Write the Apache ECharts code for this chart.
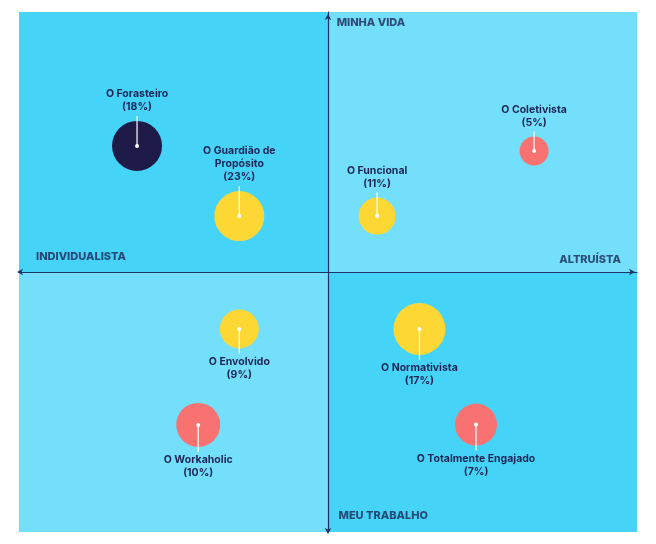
<!DOCTYPE html>
<html>
<head>
<meta charset="utf-8">
<script src="https://cdn.jsdelivr.net/npm/echarts@6/dist/echarts.min.js"></script>
<style>
html,body{margin:0;padding:0;background:#ffffff;}
#chart{width:656px;height:544px;}
</style>
</head>
<body>
<div id="chart"></div>
<script>
// ---- data ----
const names = ['O Forasteiro', 'O Guardião de\nPropósito', 'O Funcional', 'O Coletivista',
               'O Envolvido', 'O Workaholic', 'O Normativista', 'O Totalmente Engajado'];
const shares = [18, 23, 11, 5, 9, 10, 17, 7];
const xValues = [-6.18, -2.87, 1.59, 6.67, -2.87, -4.2, 2.96, 4.79];
const yValues = [4.85, 2.15, 2.15, 4.65, -2.19, -5.88, -2.19, -5.87];
const bubbleDiameter = [50, 50, 37, 29, 39, 44, 52, 42];
const segment = ['navy', 'yellow', 'yellow', 'red', 'yellow', 'red', 'yellow', 'red'];
const axisNames = ['MINHA VIDA', 'INDIVIDUALISTA', 'ALTRUÍSTA', 'MEU TRABALHO'];

// ---- styles ----
const palette = { navy: '#1f1b48', yellow: '#fdd835', red: '#f87272' };
const dark = '#45d4f8', light = '#73dffb';
const ink = '#1d2455';
const FONT = 'Inter, Roboto, "Liberation Sans", sans-serif';

const bubbleData = names.map((n, i) => [xValues[i], yValues[i], bubbleDiameter[i], shares[i], i]);

const axisCommon = {
  type: 'value', min: -10, max: 10, z: 10,
  axisLine: { show: true, onZero: true, lineStyle: { color: '#1b3566', width: 1.2 },
              symbol: ['arrow', 'arrow'], symbolSize: [5, 6], symbolOffset: [-2, -2] },
  axisTick: { show: false }, axisLabel: { show: false }, splitLine: { show: false }
};

const chart = echarts.init(document.getElementById('chart'));
chart.setOption({
  animation: false,
  backgroundColor: '#ffffff',
  grid: { left: 19, right: 19, top: 12, bottom: 12 },
  xAxis: axisCommon,
  yAxis: axisCommon,
  series: [
    {
      type: 'scatter', silent: true, symbolSize: 0, data: [],
      z: -1,
      markArea: {
        silent: true,
        data: [
          [{ coord: [-10, 0], itemStyle: { color: dark } }, { coord: [0, 10] }],
          [{ coord: [0, 0], itemStyle: { color: light } }, { coord: [10, 10] }],
          [{ coord: [-10, -10], itemStyle: { color: light } }, { coord: [0, 0] }],
          [{ coord: [0, -10], itemStyle: { color: dark } }, { coord: [10, 0] }]
        ]
      }
    },
    {
      type: 'scatter', silent: true, symbolSize: 1, itemStyle: { color: 'rgba(0,0,0,0)' }, z: 3,
      data: [
        { value: [0.28, 9.6], name: axisNames[0], label: { align: 'left' } },
        { value: [-9.45, 0.58], name: axisNames[1], label: { align: 'left' } },
        { value: [9.48, 0.46], name: axisNames[2], label: { align: 'right' } },
        { value: [0.34, -9.38], name: axisNames[3], label: { align: 'left' } }
      ],
      label: {
        show: true, position: 'inside', formatter: p => p.name,
        color: ink, fontFamily: FONT, fontWeight: 800, fontSize: 11
      }
    },
    {
      type: 'custom', z: 5, silent: true,
      data: bubbleData,
      renderItem: function (params, api) {
        const c = api.coord([api.value(0), api.value(1)]);
        const r = api.value(2) / 2;
        const idx = api.value(4);
        const up = api.value(1) > 0;
        const lineEnd = up ? c[1] - r - 5 : c[1] + r + 5;
        const textY = up ? c[1] - r - 7.5 : c[1] + r + 6.5;
        return {
          type: 'group',
          children: [
            { type: 'circle', shape: { cx: c[0], cy: c[1], r: r }, style: { fill: palette[segment[idx]] } },
            { type: 'line', shape: { x1: c[0], y1: c[1], x2: c[0], y2: lineEnd },
              style: { stroke: '#ffffff', lineWidth: 1.2 } },
            { type: 'circle', shape: { cx: c[0], cy: c[1], r: 2 }, style: { fill: '#ffffff' } },
            { type: 'text', x: c[0], y: textY,
              style: { text: names[idx] + '\n(' + api.value(3) + '%)', align: 'center',
                       verticalAlign: up ? 'bottom' : 'top', fill: ink,
                       font: 'bold 10.5px ' + FONT, lineHeight: 13 } }
          ]
        };
      }
    }
  ]
});
</script>
</body>
</html>
